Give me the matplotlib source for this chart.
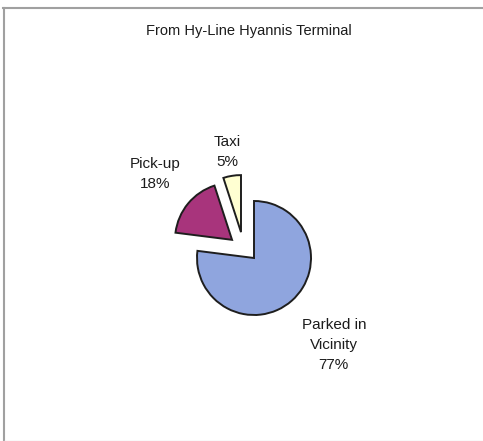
import matplotlib.pyplot as plt
from matplotlib.lines import Line2D

plt.rcParams['font.family'] = ['Liberation Sans', 'DejaVu Sans']

# arrival mode shares
categories = ['Parked in\nVicinity', 'Pick-up', 'Taxi']
shares = [77, 18, 5]
colors = ['#8fa5de', '#a8347c', '#ffffd2']
explode = [0, 0.5, 0.5]
nudge = [(0, 0), (0, 0), (-0.15, -0.04)]  # extra sideways shift of a slice

# where each label sits, in pie radius units
label_xy = [(1.40, -1.52), (-1.74, 1.47), (-0.47, 1.86)]

W, H = 483, 441
cx, cy, r = 254, 258, 57  # pie centre and radius in pixels

fig = plt.figure(figsize=(W / 100, H / 100), dpi=100)
ax = fig.add_axes([0, 0, 1, 1])

wedges, _ = ax.pie(shares, colors=colors, explode=explode, startangle=90,
                   counterclock=False, radius=1,
                   wedgeprops=dict(edgecolor='#1e1e1e', linewidth=1.4))
for w, (dx, dy) in zip(wedges, nudge):
    x0, y0 = w.center
    w.set_center((x0 + dx, y0 + dy))

for name, val, (lx, ly) in zip(categories, shares, label_xy):
    ax.text(lx, ly, f'{name}\n{val}%', ha='center', va='center',
            fontsize=11, color='#1c1c1c', linespacing=1.55)

ax.set_xlim(-cx / r, (W - cx) / r)
ax.set_ylim(-(H - cy) / r, cy / r)
ax.set_aspect('auto')
ax.axis('off')

fig.text(0.515, 1 - 31 / H, 'From Hy-Line Hyannis Terminal', ha='center',
         va='center', fontsize=10.5, color='#1c1c1c')

# chart area border: top and left drawn, bottom barely visible
top = 1 - 8 / H
fig.lines.append(Line2D([3 / W, 1], [top, top], transform=fig.transFigure,
                        color='#a0a0a0', linewidth=1.5))
fig.lines.append(Line2D([4 / W, 4 / W], [0, top], transform=fig.transFigure,
                        color='#a0a0a0', linewidth=1.5))
fig.lines.append(Line2D([4 / W, 1], [0.5 / H, 0.5 / H], transform=fig.transFigure,
                        color='#e2e2e2', linewidth=1.0))

fig.savefig('out.png', dpi=100)
